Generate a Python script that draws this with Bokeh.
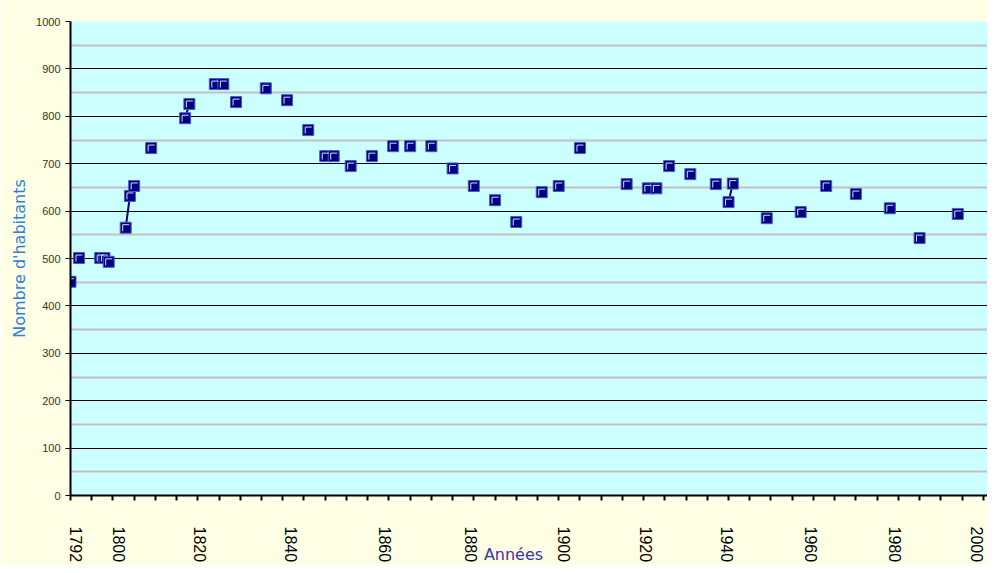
from bokeh.plotting import figure
from bokeh.models import FixedTicker, Range1d, Label
from bokeh.embed import file_html
from bokeh.resources import INLINE

# ---- data ----
years = [1792, 1794, 1799, 1800, 1801, 1805, 1806, 1807, 1811, 1819, 1820,
         1826, 1828, 1831, 1838, 1843, 1848, 1852, 1854, 1858, 1863, 1868,
         1872, 1877, 1882, 1887, 1892, 1897, 1903, 1907, 1912, 1923, 1928,
         1930, 1933, 1938, 1944, 1947, 1948, 1956, 1964, 1970, 1977, 1985,
         1992, 2001]
population = [451, 501, 501, 501, 493, 565, 632, 653, 733, 796, 826,
              868, 868, 830, 859, 834, 771, 716, 716, 695, 716, 737,
              737, 737, 690, 653, 623, 577, 640, 653, 733, 657, 648,
              648, 695, 678, 657, 619, 658, 585, 598, 653, 636, 606,
              543, 594]
tick_labels = ["1792", "1800", "1820", "1840", "1860", "1880", "1900",
               "1920", "1940", "1960", "1980", "2000"]
label_positions = [1793.2, 1803.5, 1822.4, 1844.0, 1866.0, 1886.4, 1908.3,
                   1927.6, 1946.6, 1966.4, 1986.3, 2005.6]
y_ticks = list(range(0, 1001, 100))
y_minor = list(range(50, 1000, 100))
x_start, x_end = 1792, 2008
tick_marks = list(range(1792, 2008, 5))

# ---- layout ----
W, H = 987, 565
LEFT, RIGHT, TOP, BOTTOM = 70, 0, 21, 68

p = figure(width=W, height=H, output_backend="svg", toolbar_location=None,
           x_range=Range1d(x_start, x_end), y_range=Range1d(0, 1000),
           min_border_left=LEFT, min_border_right=RIGHT,
           min_border_top=TOP, min_border_bottom=BOTTOM)
p.background_fill_color = "#CCFFFF"
p.border_fill_color = "#FFFFE6"
p.outline_line_color = None

# y axis
yt = FixedTicker(ticks=y_ticks, minor_ticks=y_minor)
p.yaxis.ticker = yt
p.ygrid.ticker = yt
p.ygrid.grid_line_color = "black"
p.ygrid.grid_line_width = 1
p.ygrid.minor_grid_line_color = "#C4C0C0"
p.ygrid.minor_grid_line_width = 2
p.xgrid.visible = False
ya = p.yaxis[0]
ya.axis_line_width = 2
ya.axis_line_color = "black"
ya.major_tick_out = 5
ya.major_tick_in = 0
ya.major_tick_line_color = "black"
ya.minor_tick_out = 0
ya.minor_tick_in = 0
ya.major_label_standoff = 5
ya.major_label_text_font = "Liberation Sans"
ya.major_label_text_font_size = "11px"
ya.major_label_text_color = "#333333"
ya.axis_label = "Nombre d'habitants"
ya.axis_label_text_font = "DejaVu Sans"
ya.axis_label_text_font_size = "16px"
ya.axis_label_text_font_style = "normal"
ya.axis_label_text_color = "#2E7FD6"
ya.axis_label_standoff = 4

# x axis
xa = p.xaxis[0]
xa.ticker = FixedTicker(ticks=label_positions, minor_ticks=tick_marks)
xa.major_label_overrides = {pos: lab for pos, lab in zip(label_positions, tick_labels)}
xa.axis_line_width = 2
xa.axis_line_color = "black"
xa.major_tick_out = 0
xa.major_tick_in = 0
xa.minor_tick_out = 5
xa.minor_tick_in = 0
xa.minor_tick_line_width = 2
xa.minor_tick_line_color = "black"
xa.major_label_orientation = "vertical"
xa.major_label_standoff = 26
xa.major_label_text_font = "Liberation Sans"
xa.major_label_text_font_size = "16px"
xa.major_label_text_color = "black"

# connecting lines between consecutive years
run_xs, run_ys = [], []
cur_x, cur_y = [years[0]], [population[0]]
for yr, pop in zip(years[1:], population[1:]):
    if yr - cur_x[-1] == 1:
        cur_x.append(yr)
        cur_y.append(pop)
    else:
        if len(cur_x) > 1:
            run_xs.append(cur_x)
            run_ys.append(cur_y)
        cur_x, cur_y = [yr], [pop]
if len(cur_x) > 1:
    run_xs.append(cur_x)
    run_ys.append(cur_y)
p.multi_line(run_xs, run_ys, line_color="#000080", line_width=2)

# markers
p.scatter(years, population, marker="square", size=11, fill_color="#000080",
          line_color="#4A5CC0", line_width=1)

# light highlight corner inside each marker (pixel offsets converted to data units)
fw = W - LEFT - RIGHT
fh = H - TOP - BOTTOM
ux = (x_end - x_start) / fw
uy = 1000.0 / fh
hx = [[x - 3 * ux, x - 3 * ux, x + 3.5 * ux] for x in years]
hy = [[y - 3.5 * uy, y + 3 * uy, y + 3 * uy] for y in population]
p.multi_line(hx, hy, line_color="#D6DEFF", line_width=1)

# x axis title (placed in the top side panel so it is not clipped to the frame)
p.add_layout(Label(x=443, y=-523, x_units="screen", y_units="screen",
                   text="Années", text_align="center", text_baseline="top",
                   text_font="DejaVu Sans", text_font_size="16px",
                   text_color="#3535A8"), "above")

open("out.html", "w").write(file_html(p, INLINE))
